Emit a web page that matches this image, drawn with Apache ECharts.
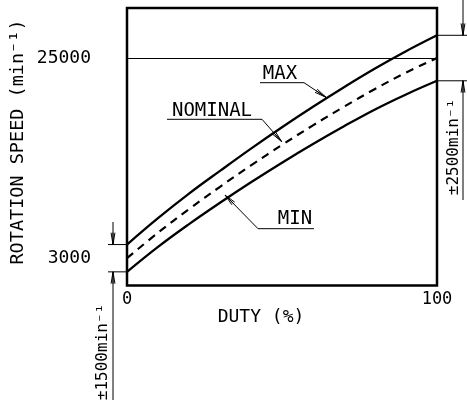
<!DOCTYPE html>
<html><head><meta charset="utf-8">
<script src="https://cdn.jsdelivr.net/npm/echarts@6/dist/echarts.min.js"></script>
<style>html,body{margin:0;padding:0;background:#fff}#c{width:467px;height:403px}</style>
</head><body><div id="c"></div>
<script>
// ---- data ----
const duty = [0, 10, 20, 30, 40, 50, 60, 70, 80, 90, 100];
const maxSpeed = [4500, 7400, 10100, 12600, 15050, 17400, 19650, 21800, 23850, 25750, 27500];
const nominalSpeed = [3000, 5800, 8400, 10850, 13200, 15450, 17600, 19650, 21600, 23400, 25000];
const minSpeed = [1500, 4250, 6750, 9100, 11350, 13500, 15550, 17500, 19350, 21000, 22500];
const xTickLabels = [0, 100];
const yTickLabels = [3000, 25000];
const referenceSpeed = 25000;
const seriesNames = ['MAX', 'NOMINAL', 'MIN'];
const yAxisTitle = 'ROTATION SPEED (min⁻¹)';
const xAxisTitle = 'DUTY (%)';
const tolLow = '±1500min⁻¹';
const tolHigh = '±2500min⁻¹';

const FONT = 'DejaVu Sans Mono';
const chart = echarts.init(document.getElementById('c'), null, {renderer: 'canvas'});
const pairs = arr => duty.map((d, i) => [d, arr[i]]);

chart.setOption({
  animation: false,
  backgroundColor: '#fff',
  grid: {left: 127, right: 30, top: 8, bottom: 117.5, show: true, borderColor: '#000', borderWidth: 2.5, backgroundColor: 'transparent'},
  xAxis: {
    type: 'value', min: 0, max: 100, interval: 100,
    axisLine: {show: false}, axisTick: {show: false}, splitLine: {show: false},
    axisLabel: {margin: 6, fontSize: 17, fontFamily: FONT, color: '#000',
      formatter: v => xTickLabels.includes(v) ? String(v) : ''}
  },
  yAxis: {
    type: 'value', min: 0, max: 30500, interval: 1000,
    axisLine: {show: false}, axisTick: {show: false}, splitLine: {show: false},
    axisLabel: {margin: 36, fontSize: 18, fontFamily: FONT, color: '#000',
      formatter: v => yTickLabels.includes(v) ? String(v) : ''}
  },
  series: [
    {name: seriesNames[0], type: 'line', data: pairs(maxSpeed), smooth: 0.4, symbol: 'none',
      lineStyle: {color: '#000', width: 2.3}, z: 3},
    {name: seriesNames[1], type: 'line', data: pairs(nominalSpeed), smooth: 0.4, symbol: 'none',
      lineStyle: {color: '#000', width: 2.2, type: [8, 6]}, z: 3,
      markLine: {silent: true, symbol: 'none', label: {show: false},
        lineStyle: {color: '#000', width: 1, type: 'solid'}, data: [{yAxis: referenceSpeed}]}},
    {name: seriesNames[2], type: 'line', data: pairs(minSpeed), smooth: 0.4, symbol: 'none',
      lineStyle: {color: '#000', width: 2.3}, z: 3}
  ]
});

const px = (x, y) => chart.convertToPixel({gridIndex: 0}, [x, y]);
const gl = px(0, 0)[0], gr = px(100, 0)[0];
const yMax0 = px(0, maxSpeed[0])[1], yMin0 = px(0, minSpeed[0])[1];
const yMax1 = px(100, maxSpeed[maxSpeed.length-1])[1], yMin1 = px(100, minSpeed[minSpeed.length-1])[1];

const thin = {stroke: '#000', lineWidth: 1, fill: null};
function line(x1, y1, x2, y2) {
  return {type: 'line', shape: {x1, y1, x2, y2}, style: thin, silent: true};
}
function arrow(tx, ty, fx, fy, len = 12, spread = 0.16) {
  const a = Math.atan2(fy - ty, fx - tx);
  const p1 = [tx + len * Math.cos(a + spread), ty + len * Math.sin(a + spread)];
  const p2 = [tx + len * Math.cos(a - spread), ty + len * Math.sin(a - spread)];
  const p3 = [tx + len * Math.cos(a), ty + len * Math.sin(a)];
  return [
    {type: 'polyline', shape: {points: [p1, [tx, ty], p2]}, style: thin, silent: true},
    line(tx, ty, p3[0], p3[1])
  ];
}
function text(str, x, y, size, rot) {
  return {type: 'text', x, y, rotation: rot || 0, silent: true,
    style: {text: str, fontSize: size, fontFamily: FONT, fill: '#000', align: 'center', verticalAlign: 'middle'}};
}

const g = [];
// axis titles
g.push(text(yAxisTitle, 18, 142, 18.5, Math.PI / 2));
g.push(text(xAxisTitle, 261, 317, 18));
// MAX label
g.push(text(seriesNames[0], 280, 74, 19));
g.push(line(260, 82.7, 304, 82.7), line(304, 82.7, 326, 97.3), ...arrow(326, 97.3, 304, 82.7));
// NOMINAL label
g.push(text(seriesNames[1], 212, 111, 19));
g.push(line(167, 119.3, 262, 119.3), line(262, 119.3, 281.7, 141.7), ...arrow(281.7, 141.7, 262, 119.3));
// MIN label
g.push(text(seriesNames[2], 295, 219, 19));
g.push(line(258, 228.7, 314, 228.7), line(258, 228.7, 225, 195), ...arrow(225, 195, 258, 228.7));
// left tolerance dimension
g.push(line(108, yMax0, gl, yMax0), line(108, yMin0, gl, yMin0));
g.push(line(113, 222, 113, yMax0), ...arrow(113, yMax0, 113, 222));
g.push(line(113, yMin0, 113, 400), ...arrow(113, yMin0, 113, 400));
g.push(text(tolLow, 103, 352, 16, Math.PI / 2));
// right tolerance dimension
g.push(line(gr, yMax1, 467, yMax1), line(gr, yMin1, 467, yMin1));
g.push(line(463, 0, 463, yMax1), ...arrow(463, yMax1, 463, 0));
g.push(line(463, yMin1, 463, 200), ...arrow(463, yMin1, 463, 200));
g.push(text(tolHigh, 454, 147, 16, Math.PI / 2));

chart.setOption({graphic: g});
</script>
</body></html>
